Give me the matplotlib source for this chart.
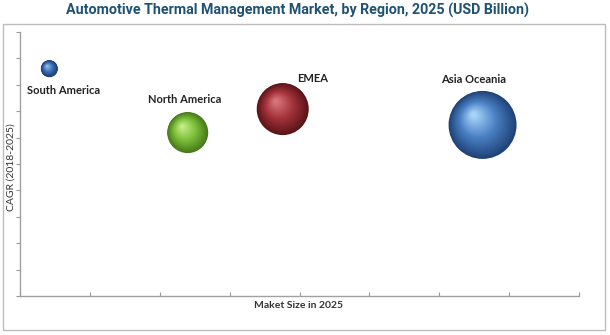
import numpy as np
import matplotlib
matplotlib.use("Agg")
import matplotlib.pyplot as plt
from matplotlib.patches import Rectangle
from matplotlib.transforms import ScaledTranslation
from matplotlib.colors import to_rgb

# data
regions = ["South America", "North America", "EMEA", "Asia Oceania"]
market_size = [0.42, 2.40, 3.76, 6.62]     # x position (market size in 2025)
cagr = [8.61, 6.19, 7.08, 6.48]             # y position (CAGR 2018-2025)
bubble_size = [17, 41, 52, 68]              # bubble diameter, px

# styles
dark = ["#1c3d6c", "#47781a", "#5a1418", "#1f4276"]
base = ["#3a6fb5", "#7cc03a", "#a3333a", "#4a80c4"]
light = ["#8dbcec", "#c2ec86", "#d9737a", "#a6d2f8"]
label_offset = [(14, -22), (-3, 33), (30, 31), (-9, 45)]  # px from bubble centre

plt.rcParams['font.family'] = ['Lato', 'DejaVu Sans']

fig = plt.figure(figsize=(6.1, 3.35), dpi=100)
ax = fig.add_axes([20 / 610, 39 / 335, 559 / 610, 264 / 335])

fig.patches.append(Rectangle((3 / 610, 5 / 335), 602 / 610, 306 / 335,
                             transform=fig.transFigure, fill=False,
                             edgecolor="#bdbdbd", linewidth=1.0))

fig.text(298 / 610, 1 - 10 / 335, "Automotive Thermal Management Market, by Region, 2025 (USD Billion)",
         ha="center", va="center", fontsize=10.3, fontweight="bold",
         color="#1f5273", family=["Roboto", "DejaVu Sans"])


def mix(c1, c2, t):
    a = np.array(to_rgb(c1))
    b = np.array(to_rgb(c2))
    return tuple(a + (b - a) * t)


px = 72 / fig.dpi
n = 40
for i in range(len(regions)):
    r = bubble_size[i] / 2
    for k in range(n):
        t = k / (n - 1)
        d = bubble_size[i] * (1 - 0.92 * t)
        dx = -0.26 * r * t
        dy = 0.30 * r * t
        if t < 0.5:
            c = mix(dark[i], base[i], t / 0.5)
        else:
            c = mix(base[i], light[i], (t - 0.5) / 0.5)
        tr = ax.transData + ScaledTranslation(dx / fig.dpi, dy / fig.dpi, fig.dpi_scale_trans)
        ax.scatter([market_size[i]], [cagr[i]], s=(d * px) ** 2, color=c,
                   edgecolors="none", transform=tr, zorder=3 + k * 0.01)
    ox, oy = label_offset[i]
    ax.annotate(regions[i], (market_size[i], cagr[i]), xytext=(ox * px, oy * px),
                textcoords="offset points", ha="center", va="center",
                fontsize=8, fontweight="bold", color="#222222", zorder=10)

ax.set_xlim(0, 8)
ax.set_ylim(0, 10)
ax.set_xticks(np.arange(0, 9, 1))
ax.set_yticks(np.arange(0, 11, 1))
ax.set_xticklabels([])
ax.set_yticklabels([])
ax.tick_params(axis="x", direction="in", length=3, color="#999999")
ax.tick_params(axis="y", direction="out", length=3, color="#999999")
for s in ["top", "right"]:
    ax.spines[s].set_visible(False)
for s in ["left", "bottom"]:
    ax.spines[s].set_color("#a0a0a0")
    ax.spines[s].set_linewidth(1.0)

fig.text(298 / 610, 1 - 305 / 335, "Maket Size in 2025", ha="center", va="center",
         fontsize=7.5, fontweight="bold", color="#333333")
fig.text(11 / 610, 1 - 167 / 335, "CAGR (2018-2025)", ha="center", va="center",
         rotation=90, fontsize=7.5, color="#333333")

fig.savefig("out.png", dpi=100)
